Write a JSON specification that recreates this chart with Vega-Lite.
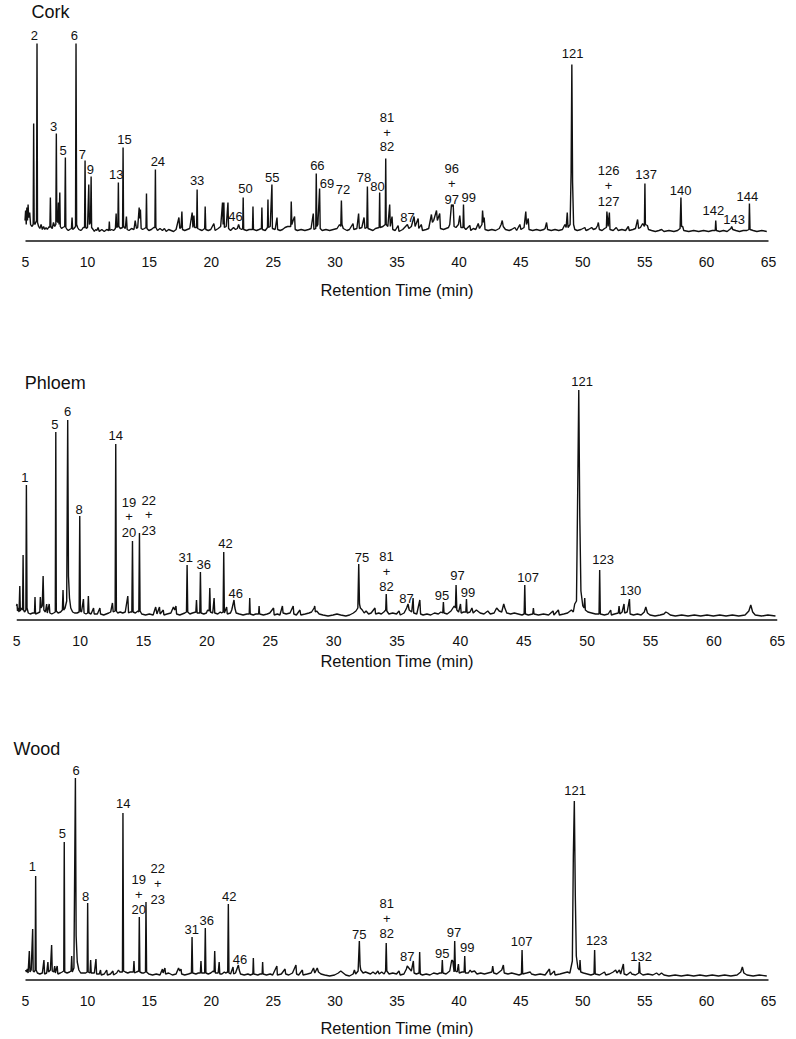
{
"$schema": "https://vega.github.io/schema/vega-lite/v6.json",
"padding": {"left": 12, "top": 3.5, "right": 10, "bottom": 4},
"background": "white",
"config": {"view": {"stroke": null}, "font": "Liberation Sans"},
"spacing": 154,
"bounds": "flush",
"center": true,
"datasets": {
"cork": [
{"t":5.0,"v":12},{"t":5.05,"v":22},{"t":5.1,"v":8},{"t":5.15,"v":25},{"t":5.2,"v":12},{"t":5.25,"v":28},{"t":5.3,"v":15},{"t":5.38,"v":20},{"t":5.45,"v":8},{"t":5.55,"v":6},{"t":5.66,"v":8},{"t":5.7,"v":109},{"t":5.74,"v":10},{"t":5.8,"v":8},{"t":5.93,"v":12},{"t":5.97,"v":189},{"t":6.01,"v":10},{"t":6.1,"v":6},{"t":6.2,"v":4},{"t":6.3,"v":8},{"t":6.4,"v":3},{"t":6.5,"v":6},{"t":6.6,"v":3},{"t":6.7,"v":5},{"t":6.8,"v":3},{"t":6.95,"v":6},{"t":7.01,"v":5},{"t":7.05,"v":35},{"t":7.09,"v":6},{"t":7.2,"v":4},{"t":7.3,"v":10},{"t":7.4,"v":6},{"t":7.49,"v":8},{"t":7.53,"v":99},{"t":7.57,"v":12},{"t":7.65,"v":10},{"t":7.7,"v":30},{"t":7.75,"v":8},{"t":7.81,"v":40},{"t":7.85,"v":6},{"t":7.95,"v":4},{"t":8.05,"v":5},{"t":8.21,"v":6},{"t":8.26,"v":75},{"t":8.3,"v":5},{"t":8.4,"v":3},{"t":8.5,"v":2},{"t":8.6,"v":3},{"t":8.75,"v":4},{"t":8.8,"v":15},{"t":8.85,"v":3},{"t":8.95,"v":4},{"t":9.08,"v":6},{"t":9.12,"v":189},{"t":9.17,"v":8},{"t":9.25,"v":5},{"t":9.35,"v":3},{"t":9.5,"v":2},{"t":9.6,"v":3},{"t":9.7,"v":5},{"t":9.81,"v":5},{"t":9.85,"v":72},{"t":9.89,"v":6},{"t":9.95,"v":4},{"t":10.05,"v":5},{"t":10.15,"v":48},{"t":10.2,"v":8},{"t":10.29,"v":10},{"t":10.34,"v":56},{"t":10.38,"v":5},
{"t":10.5,"v":3},{"t":10.6,"v":1},{"t":10.7,"v":3},{"t":10.8,"v":2},{"t":10.9,"v":5},{"t":11.0,"v":1},{"t":11.2,"v":3},{"t":11.4,"v":1},{"t":11.6,"v":3},{"t":11.77,"v":2},{"t":11.81,"v":11},{"t":11.85,"v":2},{"t":12.0,"v":3},{"t":12.15,"v":2},{"t":12.3,"v":4},{"t":12.36,"v":19},{"t":12.4,"v":5},{"t":12.5,"v":6},{"t":12.54,"v":50},{"t":12.58,"v":6},{"t":12.7,"v":4},{"t":12.88,"v":5},{"t":12.92,"v":85},{"t":12.96,"v":6},{"t":13.1,"v":4},{"t":13.19,"v":16},{"t":13.25,"v":3},{"t":13.4,"v":2},{"t":13.6,"v":4},{"t":13.8,"v":3},{"t":13.9,"v":12},{"t":14.0,"v":4},{"t":14.1,"v":5},{"t":14.22,"v":25},{"t":14.27,"v":14},{"t":14.32,"v":23},{"t":14.38,"v":4},{"t":14.5,"v":3},{"t":14.65,"v":4},{"t":14.77,"v":5},{"t":14.81,"v":39},{"t":14.85,"v":4},{"t":15.0,"v":2},{"t":15.2,"v":3},{"t":15.4,"v":5},{"t":15.49,"v":5},{"t":15.53,"v":63},{"t":15.57,"v":5},{"t":15.7,"v":2},{"t":15.9,"v":4},{"t":16.1,"v":2},{"t":16.26,"v":4},{"t":16.4,"v":1},{"t":16.6,"v":3},{"t":16.8,"v":2},{"t":17.0,"v":1},{"t":17.2,"v":3},{"t":17.43,"v":15},{"t":17.5,"v":4},{"t":17.6,"v":5},{"t":17.67,"v":21},{"t":17.72,"v":3},{"t":17.9,"v":2},{"t":18.1,"v":3},{"t":18.3,"v":4},{"t":18.5,"v":20},{"t":18.56,"v":5},{"t":18.64,"v":17},{"t":18.7,"v":5},{"t":18.86,"v":5},{"t":18.9,"v":43},{"t":18.94,"v":4},{"t":19.1,"v":3},{"t":19.3,"v":2},{"t":19.51,"v":4},{"t":19.55,"v":26},{"t":19.6,"v":3},{"t":19.8,"v":2},{"t":20.0,"v":3},{"t":20.25,"v":9},{"t":20.35,"v":2},{"t":20.6,"v":4},{"t":20.8,"v":6},{"t":20.95,"v":30},{"t":21.0,"v":8},{"t":21.06,"v":30},{"t":21.1,"v":5},{"t":21.25,"v":6},{"t":21.39,"v":30},{"t":21.44,"v":4},{"t":21.6,"v":2},{"t":21.84,"v":5},{"t":22.0,"v":3},{"t":22.15,"v":4},{"t":22.25,"v":8},{"t":22.35,"v":4},{"t":22.5,"v":3},{"t":22.58,"v":4},{"t":22.62,"v":35},{"t":22.66,"v":3},{"t":22.9,"v":2},{"t":23.1,"v":3},{"t":23.37,"v":3},{"t":23.41,"v":26},{"t":23.45,"v":3},{"t":23.7,"v":2},{"t":23.9,"v":3},{"t":24.09,"v":4},{"t":24.13,"v":25},{"t":24.17,"v":3},{"t":24.4,"v":2},{"t":24.58,"v":5},{"t":24.62,"v":33},{"t":24.66,"v":5},{"t":24.8,"v":6},{"t":24.94,"v":48},{"t":24.98,"v":4},{"t":25.2,"v":3},{"t":25.35,"v":15},{"t":25.4,"v":3},{"t":25.6,"v":2},{"t":25.8,"v":3},{"t":26.0,"v":5},{"t":26.2,"v":6},{"t":26.46,"v":6},{"t":26.5,"v":31},{"t":26.55,"v":8},{"t":26.65,"v":12},{"t":26.77,"v":16},{"t":26.82,"v":3},{"t":27.0,"v":2},{"t":27.3,"v":3},{"t":27.6,"v":2},{"t":27.9,"v":3},{"t":28.1,"v":4},{"t":28.28,"v":19},{"t":28.33,"v":3},{"t":28.48,"v":4},{"t":28.52,"v":59},{"t":28.57,"v":6},{"t":28.65,"v":8},{"t":28.79,"v":44},{"t":28.84,"v":4},{"t":29.0,"v":2},{"t":29.3,"v":3},{"t":29.6,"v":2},{"t":29.9,"v":3},{"t":30.2,"v":4},{"t":30.4,"v":8},{"t":30.5,"v":6},{"t":30.55,"v":32},{"t":30.6,"v":8},{"t":30.7,"v":4},{"t":31.0,"v":2},{"t":31.2,"v":3},{"t":31.49,"v":9},{"t":31.55,"v":3},{"t":31.8,"v":4},{"t":31.94,"v":19},{"t":32.0,"v":4},{"t":32.2,"v":5},{"t":32.38,"v":15},{"t":32.45,"v":4},{"t":32.6,"v":5},{"t":32.65,"v":46},{"t":32.7,"v":4},{"t":32.9,"v":3},{"t":33.1,"v":2},{"t":33.3,"v":4},{"t":33.6,"v":5},{"t":33.64,"v":40},{"t":33.68,"v":5},{"t":33.9,"v":6},{"t":34.09,"v":8},{"t":34.13,"v":74},{"t":34.17,"v":8},{"t":34.3,"v":6},{"t":34.45,"v":28},{"t":34.5,"v":6},{"t":34.64,"v":16},{"t":34.7,"v":3},{"t":34.9,"v":2},{"t":35.13,"v":7},{"t":35.2,"v":1},{"t":35.5,"v":3},{"t":35.88,"v":8},{"t":36.0,"v":4},{"t":36.2,"v":6},{"t":36.42,"v":16},{"t":36.5,"v":6},{"t":36.75,"v":14},{"t":36.8,"v":4},{"t":37.0,"v":8},{"t":37.1,"v":2},{"t":37.4,"v":3},{"t":37.6,"v":4},{"t":37.82,"v":18},{"t":37.9,"v":10},{"t":38.0,"v":12},{"t":38.23,"v":22},{"t":38.3,"v":12},{"t":38.49,"v":19},{"t":38.55,"v":4},{"t":38.8,"v":3},{"t":39.0,"v":4},{"t":39.2,"v":5},{"t":39.3,"v":8},{"t":39.44,"v":28},{"t":39.5,"v":26},{"t":39.58,"v":28},{"t":39.65,"v":6},{"t":39.8,"v":5},{"t":40.0,"v":8},{"t":40.11,"v":17},{"t":40.2,"v":5},{"t":40.37,"v":5},{"t":40.41,"v":28},{"t":40.46,"v":5},{"t":40.6,"v":3},{"t":40.92,"v":7},{"t":41.0,"v":2},{"t":41.2,"v":4},{"t":41.4,"v":3},{"t":41.6,"v":9},{"t":41.7,"v":4},{"t":41.9,"v":8},{"t":41.95,"v":22},{"t":42.02,"v":10},{"t":42.08,"v":15},{"t":42.15,"v":3},{"t":42.4,"v":2},{"t":42.7,"v":3},{"t":43.0,"v":2},{"t":43.3,"v":4},{"t":43.45,"v":8},{"t":43.54,"v":12},{"t":43.62,"v":6},{"t":43.8,"v":3},{"t":44.1,"v":2},{"t":44.3,"v":3},{"t":44.56,"v":5},{"t":44.7,"v":2},{"t":44.96,"v":8},{"t":45.05,"v":3},{"t":45.3,"v":5},{"t":45.44,"v":21},{"t":45.5,"v":8},{"t":45.64,"v":14},{"t":45.7,"v":3},{"t":46.0,"v":2},{"t":46.3,"v":3},{"t":46.6,"v":2},{"t":46.9,"v":3},{"t":47.0,"v":4},{"t":47.12,"v":10},{"t":47.2,"v":3},{"t":47.5,"v":2},{"t":47.8,"v":3},{"t":48.1,"v":2},{"t":48.4,"v":3},{"t":48.6,"v":8},{"t":48.7,"v":5},{"t":48.79,"v":20},{"t":48.85,"v":5},{"t":49.02,"v":8},{"t":49.1,"v":60},{"t":49.16,"v":168},{"t":49.22,"v":50},{"t":49.3,"v":8},{"t":49.4,"v":3},{"t":49.6,"v":2},{"t":49.9,"v":3},{"t":50.21,"v":5},{"t":50.3,"v":2},{"t":50.5,"v":3},{"t":50.76,"v":5},{"t":50.9,"v":3},{"t":51.1,"v":4},{"t":51.24,"v":7},{"t":51.3,"v":10},{"t":51.38,"v":3},{"t":51.6,"v":2},{"t":51.8,"v":4},{"t":51.95,"v":5},{"t":51.99,"v":21},{"t":52.09,"v":6},{"t":52.19,"v":20},{"t":52.24,"v":3},{"t":52.5,"v":2},{"t":52.75,"v":5},{"t":52.9,"v":2},{"t":53.2,"v":3},{"t":53.5,"v":2},{"t":53.72,"v":6},{"t":53.8,"v":2},{"t":54.1,"v":3},{"t":54.3,"v":4},{"t":54.47,"v":13},{"t":54.55,"v":4},{"t":54.7,"v":5},{"t":54.88,"v":9},{"t":55.02,"v":6},{"t":55.06,"v":49},{"t":55.1,"v":8},{"t":55.26,"v":7},{"t":55.35,"v":3},{"t":55.6,"v":2},{"t":55.9,"v":1},{"t":56.2,"v":2},{"t":56.41,"v":3},{"t":56.6,"v":1},{"t":57.0,"v":2},{"t":57.4,"v":1},{"t":57.7,"v":2},{"t":57.9,"v":4},{"t":57.97,"v":35},{"t":58.02,"v":6},{"t":58.11,"v":6},{"t":58.2,"v":2},{"t":58.6,"v":1},{"t":59.0,"v":2},{"t":59.4,"v":1},{"t":59.8,"v":2},{"t":60.2,"v":1},{"t":60.5,"v":2},{"t":60.74,"v":2},{"t":60.78,"v":12},{"t":60.83,"v":2},{"t":61.1,"v":1},{"t":61.4,"v":2},{"t":61.7,"v":1},{"t":62.0,"v":4},{"t":62.07,"v":6},{"t":62.15,"v":3},{"t":62.4,"v":2},{"t":62.7,"v":1},{"t":63.0,"v":2},{"t":63.3,"v":2},{"t":63.46,"v":3},{"t":63.5,"v":29},{"t":63.55,"v":3},{"t":63.8,"v":2},{"t":64.1,"v":1},{"t":64.5,"v":2},{"t":64.9,"v":1}
],
"corkLab": [
{"t":5.75,"v":197,"label":"2"},{"t":8.99,"v":197,"label":"6"},{"t":7.32,"v":106,"label":"3"},{"t":8.07,"v":82,"label":"5"},{"t":9.63,"v":78,"label":"7"},{"t":10.28,"v":63,"label":"9"},{"t":12.36,"v":58,"label":"13"},{"t":13.03,"v":92.7,"label":"15"},{"t":15.73,"v":71,"label":"24"},{"t":18.9,"v":52,"label":"33"},{"t":22.0,"v":15.3,"label":"46"},{"t":22.81,"v":43.7,"label":"50"},{"t":24.97,"v":54.3,"label":"55"},{"t":28.61,"v":66.3,"label":"66"},{"t":29.39,"v":48.7,"label":"69"},{"t":30.68,"v":43,"label":"72"},{"t":32.38,"v":54.7,"label":"78"},{"t":33.46,"v":46,"label":"80"},{"t":34.24,"v":114.7,"label":"81"},{"t":34.24,"v":99.7,"label":"+"},{"t":34.24,"v":85.3,"label":"82"},{"t":35.88,"v":14.7,"label":"87"},{"t":39.46,"v":63.7,"label":"96"},{"t":39.46,"v":48.7,"label":"+"},{"t":39.46,"v":33,"label":"97"},{"t":40.84,"v":34.3,"label":"99"},{"t":49.22,"v":178.7,"label":"121"},{"t":52.13,"v":61.3,"label":"126"},{"t":52.13,"v":46.3,"label":"+"},{"t":52.13,"v":30.7,"label":"127"},{"t":55.15,"v":57.7,"label":"137"},{"t":57.95,"v":42,"label":"140"},{"t":60.59,"v":22,"label":"142"},{"t":62.26,"v":12.7,"label":"143"},{"t":63.34,"v":35.3,"label":"144"}
],
"phloem": [
{"t":5.02,"v":10},{"t":5.06,"v":12},{"t":5.1,"v":5},{"t":5.16,"v":8},{"t":5.22,"v":4},{"t":5.28,"v":30},{"t":5.32,"v":5},{"t":5.4,"v":8},{"t":5.5,"v":6},{"t":5.54,"v":61},{"t":5.58,"v":6},{"t":5.65,"v":4},{"t":5.76,"v":6},{"t":5.8,"v":131},{"t":5.85,"v":8},{"t":5.95,"v":3},{"t":6.1,"v":2},{"t":6.3,"v":3},{"t":6.44,"v":3},{"t":6.48,"v":19},{"t":6.52,"v":2},{"t":6.7,"v":3},{"t":6.86,"v":4},{"t":6.9,"v":19},{"t":6.95,"v":8},{"t":7.05,"v":10},{"t":7.12,"v":40},{"t":7.18,"v":6},{"t":7.3,"v":4},{"t":7.4,"v":12},{"t":7.45,"v":3},{"t":7.6,"v":12},{"t":7.65,"v":3},{"t":7.8,"v":2},{"t":7.95,"v":3},{"t":8.08,"v":4},{"t":8.12,"v":184},{"t":8.16,"v":5},{"t":8.3,"v":3},{"t":8.5,"v":4},{"t":8.64,"v":6},{"t":8.69,"v":26},{"t":8.74,"v":6},{"t":8.85,"v":8},{"t":8.98,"v":15},{"t":9.06,"v":196},{"t":9.12,"v":40},{"t":9.2,"v":18},{"t":9.3,"v":8},{"t":9.45,"v":4},{"t":9.6,"v":3},{"t":9.8,"v":3},{"t":9.96,"v":4},{"t":10.01,"v":100},{"t":10.06,"v":5},{"t":10.15,"v":4},{"t":10.3,"v":17},{"t":10.35,"v":3},{"t":10.5,"v":2},{"t":10.64,"v":3},{"t":10.69,"v":20},{"t":10.74,"v":3},{"t":10.9,"v":2},{"t":11.1,"v":8},{"t":11.15,"v":2},{"t":11.4,"v":2},{"t":11.6,"v":8},{"t":11.65,"v":2},{"t":11.9,"v":1},{"t":12.1,"v":2},{"t":12.3,"v":3},{"t":12.45,"v":4},{"t":12.59,"v":13},{"t":12.65,"v":4},{"t":12.8,"v":5},{"t":12.85,"v":172},{"t":12.9,"v":5},{"t":13.0,"v":3},{"t":13.2,"v":4},{"t":13.4,"v":3},{"t":13.6,"v":4},{"t":13.8,"v":20},{"t":13.86,"v":3},{"t":14.0,"v":4},{"t":14.12,"v":4},{"t":14.17,"v":75},{"t":14.22,"v":4},{"t":14.4,"v":3},{"t":14.6,"v":5},{"t":14.67,"v":4},{"t":14.72,"v":83},{"t":14.77,"v":5},{"t":14.9,"v":2},{"t":15.2,"v":1},{"t":15.5,"v":2},{"t":15.8,"v":1},{"t":16.0,"v":9},{"t":16.1,"v":2},{"t":16.3,"v":9},{"t":16.35,"v":2},{"t":16.6,"v":6},{"t":16.65,"v":1},{"t":16.9,"v":2},{"t":17.2,"v":3},{"t":17.4,"v":9},{"t":17.5,"v":6},{"t":17.6,"v":10},{"t":17.65,"v":2},{"t":17.9,"v":1},{"t":18.1,"v":2},{"t":18.3,"v":3},{"t":18.43,"v":4},{"t":18.48,"v":51},{"t":18.53,"v":4},{"t":18.7,"v":2},{"t":18.9,"v":3},{"t":19.17,"v":4},{"t":19.22,"v":16},{"t":19.27,"v":3},{"t":19.48,"v":3},{"t":19.53,"v":44},{"t":19.58,"v":3},{"t":19.8,"v":2},{"t":20.0,"v":3},{"t":20.1,"v":6},{"t":20.22,"v":5},{"t":20.27,"v":28},{"t":20.32,"v":4},{"t":20.5,"v":3},{"t":20.61,"v":18},{"t":20.66,"v":3},{"t":20.9,"v":2},{"t":21.1,"v":4},{"t":21.2,"v":3},{"t":21.32,"v":4},{"t":21.37,"v":64},{"t":21.42,"v":3},{"t":21.6,"v":9},{"t":21.65,"v":2},{"t":21.9,"v":3},{"t":22.0,"v":6},{"t":22.18,"v":16},{"t":22.25,"v":8},{"t":22.35,"v":3},{"t":22.6,"v":2},{"t":22.9,"v":1},{"t":23.2,"v":2},{"t":23.38,"v":2},{"t":23.42,"v":18},{"t":23.46,"v":2},{"t":23.7,"v":1},{"t":23.9,"v":2},{"t":24.12,"v":2},{"t":24.16,"v":10},{"t":24.2,"v":2},{"t":24.5,"v":1},{"t":24.8,"v":2},{"t":25.0,"v":3},{"t":25.3,"v":8},{"t":25.35,"v":1},{"t":25.6,"v":2},{"t":25.8,"v":1},{"t":26.0,"v":10},{"t":26.05,"v":3},{"t":26.3,"v":2},{"t":26.6,"v":3},{"t":26.85,"v":10},{"t":26.9,"v":2},{"t":27.1,"v":1},{"t":27.38,"v":6},{"t":27.45,"v":1},{"t":27.8,"v":2},{"t":28.1,"v":3},{"t":28.3,"v":4},{"t":28.5,"v":8},{"t":28.55,"v":10},{"t":28.6,"v":4},{"t":28.7,"v":5},{"t":28.9,"v":2},{"t":29.2,"v":1},{"t":29.6,"v":0},{"t":30.0,"v":1},{"t":30.3,"v":2},{"t":30.6,"v":1},{"t":31.0,"v":0},{"t":31.3,"v":1},{"t":31.6,"v":3},{"t":31.8,"v":5},{"t":31.95,"v":8},{"t":32.02,"v":52},{"t":32.08,"v":12},{"t":32.15,"v":8},{"t":32.3,"v":6},{"t":32.45,"v":3},{"t":32.6,"v":5},{"t":32.8,"v":2},{"t":33.0,"v":3},{"t":33.3,"v":8},{"t":33.35,"v":2},{"t":33.6,"v":3},{"t":33.8,"v":2},{"t":34.0,"v":4},{"t":34.15,"v":6},{"t":34.19,"v":22},{"t":34.24,"v":5},{"t":34.4,"v":2},{"t":34.7,"v":3},{"t":35.0,"v":2},{"t":35.2,"v":5},{"t":35.3,"v":1},{"t":35.6,"v":3},{"t":35.8,"v":8},{"t":35.91,"v":12},{"t":36.0,"v":6},{"t":36.2,"v":4},{"t":36.31,"v":18},{"t":36.36,"v":3},{"t":36.6,"v":2},{"t":36.84,"v":16},{"t":36.9,"v":2},{"t":37.1,"v":1},{"t":37.4,"v":2},{"t":37.7,"v":1},{"t":38.0,"v":3},{"t":38.3,"v":2},{"t":38.5,"v":4},{"t":38.65,"v":3},{"t":38.7,"v":14},{"t":38.75,"v":3},{"t":39.0,"v":2},{"t":39.3,"v":5},{"t":39.45,"v":8},{"t":39.55,"v":10},{"t":39.65,"v":8},{"t":39.7,"v":31},{"t":39.76,"v":6},{"t":39.9,"v":4},{"t":40.05,"v":12},{"t":40.1,"v":3},{"t":40.3,"v":4},{"t":40.47,"v":4},{"t":40.52,"v":17},{"t":40.57,"v":3},{"t":40.8,"v":4},{"t":40.95,"v":8},{"t":41.05,"v":3},{"t":41.3,"v":6},{"t":41.4,"v":5},{"t":41.6,"v":3},{"t":41.9,"v":2},{"t":42.2,"v":5},{"t":42.4,"v":2},{"t":42.7,"v":3},{"t":42.9,"v":8},{"t":43.1,"v":5},{"t":43.3,"v":4},{"t":43.46,"v":12},{"t":43.55,"v":8},{"t":43.7,"v":3},{"t":44.0,"v":2},{"t":44.3,"v":3},{"t":44.6,"v":2},{"t":44.9,"v":1},{"t":45.07,"v":2},{"t":45.12,"v":31},{"t":45.17,"v":2},{"t":45.4,"v":1},{"t":45.75,"v":2},{"t":45.8,"v":8},{"t":45.85,"v":2},{"t":46.2,"v":1},{"t":46.6,"v":2},{"t":47.0,"v":1},{"t":47.35,"v":5},{"t":47.42,"v":1},{"t":47.77,"v":6},{"t":47.85,"v":1},{"t":48.2,"v":2},{"t":48.5,"v":3},{"t":48.8,"v":6},{"t":48.95,"v":4},{"t":49.06,"v":12},{"t":49.2,"v":15},{"t":49.3,"v":130},{"t":49.38,"v":226},{"t":49.46,"v":100},{"t":49.55,"v":25},{"t":49.7,"v":10},{"t":49.8,"v":8},{"t":49.85,"v":18},{"t":49.9,"v":6},{"t":50.1,"v":4},{"t":50.4,"v":3},{"t":50.7,"v":2},{"t":50.98,"v":2},{"t":51.03,"v":46},{"t":51.08,"v":2},{"t":51.4,"v":1},{"t":51.7,"v":2},{"t":51.9,"v":6},{"t":51.95,"v":1},{"t":52.2,"v":2},{"t":52.5,"v":3},{"t":52.56,"v":10},{"t":52.62,"v":2},{"t":52.8,"v":4},{"t":52.95,"v":12},{"t":53.0,"v":3},{"t":53.2,"v":4},{"t":53.38,"v":17},{"t":53.43,"v":2},{"t":53.7,"v":1},{"t":54.0,"v":2},{"t":54.3,"v":1},{"t":54.55,"v":4},{"t":54.67,"v":9},{"t":54.8,"v":3},{"t":55.0,"v":1},{"t":55.4,"v":0},{"t":55.8,"v":1},{"t":56.1,"v":2},{"t":56.25,"v":4},{"t":56.4,"v":3},{"t":56.6,"v":1},{"t":57.0,"v":0},{"t":57.5,"v":1},{"t":58.0,"v":0},{"t":58.5,"v":1},{"t":59.0,"v":0},{"t":59.5,"v":1},{"t":60.0,"v":0},{"t":60.5,"v":1},{"t":61.0,"v":0},{"t":61.5,"v":1},{"t":62.0,"v":0},{"t":62.5,"v":1},{"t":62.8,"v":5},{"t":62.95,"v":11},{"t":63.1,"v":4},{"t":63.3,"v":1},{"t":63.8,"v":0},{"t":64.3,"v":1},{"t":64.9,"v":0}
],
"phloemLab": [
{"t":5.67,"v":138.2,"label":"1"},{"t":8.04,"v":191.2,"label":"5"},{"t":9.06,"v":203.8,"label":"6"},{"t":9.95,"v":106.5,"label":"8"},{"t":12.85,"v":179.8,"label":"14"},{"t":13.9,"v":113.2,"label":"19"},{"t":13.9,"v":98.8,"label":"+"},{"t":13.9,"v":83.2,"label":"20"},{"t":15.45,"v":115.5,"label":"22"},{"t":15.45,"v":100.8,"label":"+"},{"t":15.45,"v":85.5,"label":"23"},{"t":18.37,"v":58.2,"label":"31"},{"t":19.79,"v":51.2,"label":"36"},{"t":21.5,"v":72.2,"label":"42"},{"t":22.32,"v":22.2,"label":"46"},{"t":32.28,"v":57.8,"label":"75"},{"t":34.21,"v":59.5,"label":"81"},{"t":34.21,"v":44.5,"label":"+"},{"t":34.21,"v":28.8,"label":"82"},{"t":35.79,"v":17.2,"label":"87"},{"t":38.59,"v":20.5,"label":"95"},{"t":39.81,"v":39.8,"label":"97"},{"t":40.64,"v":23.2,"label":"99"},{"t":45.38,"v":37.8,"label":"107"},{"t":49.64,"v":233.8,"label":"121"},{"t":51.3,"v":56.2,"label":"123"},{"t":53.46,"v":25.5,"label":"130"}
],
"wood": [
{"t":5.05,"v":6},{"t":5.12,"v":4},{"t":5.19,"v":7},{"t":5.25,"v":3},{"t":5.35,"v":25},{"t":5.4,"v":4},{"t":5.5,"v":6},{"t":5.62,"v":47},{"t":5.66,"v":5},{"t":5.75,"v":4},{"t":5.82,"v":6},{"t":5.86,"v":100},{"t":5.9,"v":6},{"t":6.0,"v":3},{"t":6.2,"v":2},{"t":6.4,"v":3},{"t":6.53,"v":16},{"t":6.58,"v":2},{"t":6.75,"v":3},{"t":6.85,"v":14},{"t":6.9,"v":4},{"t":7.05,"v":6},{"t":7.15,"v":31},{"t":7.2,"v":5},{"t":7.32,"v":4},{"t":7.4,"v":10},{"t":7.45,"v":3},{"t":7.6,"v":10},{"t":7.65,"v":2},{"t":7.85,"v":3},{"t":8.0,"v":4},{"t":8.13,"v":5},{"t":8.17,"v":134},{"t":8.21,"v":4},{"t":8.4,"v":3},{"t":8.6,"v":4},{"t":8.72,"v":5},{"t":8.77,"v":20},{"t":8.82,"v":4},{"t":8.95,"v":8},{"t":9.07,"v":198},{"t":9.13,"v":40},{"t":9.22,"v":14},{"t":9.35,"v":6},{"t":9.5,"v":3},{"t":9.7,"v":3},{"t":9.9,"v":3},{"t":10.02,"v":4},{"t":10.06,"v":73},{"t":10.1,"v":4},{"t":10.25,"v":3},{"t":10.3,"v":16},{"t":10.35,"v":3},{"t":10.6,"v":3},{"t":10.73,"v":17},{"t":10.78,"v":2},{"t":11.0,"v":2},{"t":11.1,"v":6},{"t":11.15,"v":1},{"t":11.4,"v":2},{"t":11.6,"v":6},{"t":11.65,"v":1},{"t":11.9,"v":2},{"t":12.1,"v":5},{"t":12.15,"v":1},{"t":12.4,"v":3},{"t":12.55,"v":6},{"t":12.65,"v":4},{"t":12.87,"v":4},{"t":12.91,"v":163},{"t":12.96,"v":5},{"t":13.1,"v":4},{"t":13.3,"v":3},{"t":13.5,"v":4},{"t":13.75,"v":4},{"t":13.8,"v":15},{"t":13.85,"v":3},{"t":14.0,"v":4},{"t":14.19,"v":5},{"t":14.23,"v":59},{"t":14.28,"v":4},{"t":14.45,"v":3},{"t":14.6,"v":3},{"t":14.73,"v":4},{"t":14.77,"v":74},{"t":14.82,"v":4},{"t":15.0,"v":2},{"t":15.3,"v":1},{"t":15.6,"v":2},{"t":15.9,"v":1},{"t":16.1,"v":7},{"t":16.15,"v":3},{"t":16.3,"v":8},{"t":16.35,"v":2},{"t":16.6,"v":3},{"t":16.9,"v":1},{"t":17.2,"v":2},{"t":17.4,"v":8},{"t":17.5,"v":5},{"t":17.6,"v":7},{"t":17.65,"v":2},{"t":17.9,"v":1},{"t":18.2,"v":2},{"t":18.44,"v":3},{"t":18.49,"v":39},{"t":18.54,"v":3},{"t":18.8,"v":2},{"t":19.0,"v":3},{"t":19.16,"v":3},{"t":19.21,"v":15},{"t":19.26,"v":3},{"t":19.51,"v":3},{"t":19.56,"v":48},{"t":19.61,"v":3},{"t":19.8,"v":2},{"t":20.0,"v":3},{"t":20.2,"v":5},{"t":20.27,"v":4},{"t":20.32,"v":25},{"t":20.37,"v":3},{"t":20.6,"v":3},{"t":20.68,"v":14},{"t":20.73,"v":2},{"t":20.9,"v":2},{"t":21.1,"v":4},{"t":21.2,"v":3},{"t":21.37,"v":4},{"t":21.42,"v":72},{"t":21.47,"v":3},{"t":21.6,"v":2},{"t":21.8,"v":9},{"t":21.85,"v":2},{"t":22.0,"v":3},{"t":22.23,"v":11},{"t":22.3,"v":6},{"t":22.4,"v":2},{"t":22.7,"v":1},{"t":23.0,"v":2},{"t":23.2,"v":1},{"t":23.4,"v":2},{"t":23.44,"v":18},{"t":23.48,"v":2},{"t":23.8,"v":1},{"t":24.0,"v":2},{"t":24.15,"v":2},{"t":24.19,"v":14},{"t":24.23,"v":2},{"t":24.5,"v":1},{"t":24.8,"v":2},{"t":25.0,"v":1},{"t":25.34,"v":10},{"t":25.38,"v":1},{"t":25.7,"v":2},{"t":26.0,"v":7},{"t":26.05,"v":2},{"t":26.3,"v":1},{"t":26.6,"v":3},{"t":26.88,"v":11},{"t":26.93,"v":2},{"t":27.1,"v":1},{"t":27.4,"v":6},{"t":27.45,"v":1},{"t":27.8,"v":2},{"t":28.1,"v":3},{"t":28.3,"v":8},{"t":28.4,"v":3},{"t":28.6,"v":8},{"t":28.7,"v":4},{"t":28.9,"v":2},{"t":29.2,"v":1},{"t":29.6,"v":0},{"t":30.0,"v":1},{"t":30.3,"v":3},{"t":30.5,"v":5},{"t":30.7,"v":3},{"t":30.9,"v":1},{"t":31.2,"v":0},{"t":31.5,"v":2},{"t":31.6,"v":6},{"t":31.7,"v":2},{"t":31.9,"v":5},{"t":32.0,"v":35},{"t":32.06,"v":10},{"t":32.12,"v":6},{"t":32.3,"v":3},{"t":32.5,"v":4},{"t":32.7,"v":3},{"t":32.9,"v":2},{"t":33.1,"v":4},{"t":33.3,"v":2},{"t":33.5,"v":5},{"t":33.6,"v":2},{"t":33.8,"v":4},{"t":34.0,"v":2},{"t":34.12,"v":5},{"t":34.17,"v":33},{"t":34.22,"v":5},{"t":34.4,"v":2},{"t":34.7,"v":3},{"t":35.0,"v":2},{"t":35.2,"v":5},{"t":35.3,"v":1},{"t":35.6,"v":2},{"t":35.8,"v":7},{"t":35.87,"v":10},{"t":36.0,"v":8},{"t":36.2,"v":5},{"t":36.36,"v":15},{"t":36.42,"v":3},{"t":36.6,"v":2},{"t":36.82,"v":3},{"t":36.87,"v":24},{"t":36.92,"v":2},{"t":37.1,"v":1},{"t":37.4,"v":2},{"t":37.7,"v":1},{"t":38.0,"v":3},{"t":38.3,"v":2},{"t":38.5,"v":3},{"t":38.65,"v":3},{"t":38.7,"v":16},{"t":38.75,"v":3},{"t":39.0,"v":2},{"t":39.3,"v":5},{"t":39.46,"v":16},{"t":39.55,"v":15},{"t":39.65,"v":4},{"t":39.7,"v":35},{"t":39.76,"v":5},{"t":39.9,"v":4},{"t":40.0,"v":12},{"t":40.06,"v":3},{"t":40.3,"v":4},{"t":40.46,"v":4},{"t":40.51,"v":20},{"t":40.56,"v":3},{"t":40.8,"v":3},{"t":40.95,"v":6},{"t":41.05,"v":4},{"t":41.3,"v":5},{"t":41.5,"v":2},{"t":41.8,"v":3},{"t":42.1,"v":2},{"t":42.4,"v":3},{"t":42.7,"v":4},{"t":42.77,"v":10},{"t":42.85,"v":3},{"t":43.1,"v":2},{"t":43.3,"v":4},{"t":43.5,"v":6},{"t":43.63,"v":11},{"t":43.7,"v":3},{"t":44.0,"v":2},{"t":44.3,"v":3},{"t":44.6,"v":2},{"t":44.9,"v":1},{"t":45.09,"v":2},{"t":45.14,"v":26},{"t":45.19,"v":2},{"t":45.5,"v":3},{"t":45.8,"v":4},{"t":45.9,"v":2},{"t":46.2,"v":1},{"t":46.6,"v":2},{"t":47.0,"v":1},{"t":47.35,"v":7},{"t":47.42,"v":1},{"t":47.75,"v":5},{"t":47.8,"v":1},{"t":48.2,"v":2},{"t":48.5,"v":3},{"t":48.8,"v":4},{"t":49.0,"v":3},{"t":49.2,"v":15},{"t":49.28,"v":120},{"t":49.36,"v":175},{"t":49.44,"v":80},{"t":49.52,"v":20},{"t":49.65,"v":8},{"t":49.78,"v":6},{"t":49.82,"v":16},{"t":49.88,"v":4},{"t":50.1,"v":3},{"t":50.4,"v":2},{"t":50.7,"v":1},{"t":50.95,"v":2},{"t":51.0,"v":26},{"t":51.05,"v":2},{"t":51.4,"v":1},{"t":51.8,"v":4},{"t":51.9,"v":1},{"t":52.2,"v":2},{"t":52.5,"v":4},{"t":52.7,"v":6},{"t":52.8,"v":3},{"t":53.0,"v":6},{"t":53.1,"v":2},{"t":53.32,"v":12},{"t":53.38,"v":2},{"t":53.6,"v":1},{"t":53.9,"v":4},{"t":54.0,"v":2},{"t":54.3,"v":1},{"t":54.56,"v":3},{"t":54.61,"v":14},{"t":54.67,"v":3},{"t":54.9,"v":1},{"t":55.3,"v":2},{"t":55.7,"v":1},{"t":56.0,"v":3},{"t":56.2,"v":1},{"t":56.4,"v":3},{"t":56.6,"v":1},{"t":57.0,"v":0},{"t":57.5,"v":1},{"t":58.0,"v":0},{"t":58.5,"v":1},{"t":59.0,"v":0},{"t":59.5,"v":1},{"t":60.0,"v":0},{"t":60.5,"v":1},{"t":61.0,"v":0},{"t":61.5,"v":1},{"t":62.0,"v":0},{"t":62.5,"v":1},{"t":62.8,"v":4},{"t":62.93,"v":9},{"t":63.05,"v":3},{"t":63.3,"v":1},{"t":63.8,"v":0},{"t":64.3,"v":1},{"t":64.9,"v":0}
],
"woodLab": [
{"t":5.59,"v":109.5,"label":"1"},{"t":8.01,"v":142.2,"label":"5"},{"t":9.12,"v":204.8,"label":"6"},{"t":9.9,"v":79.5,"label":"8"},{"t":12.94,"v":172.2,"label":"14"},{"t":14.18,"v":96.5,"label":"19"},{"t":14.18,"v":81.5,"label":"+"},{"t":14.18,"v":66.2,"label":"20"},{"t":15.72,"v":107.2,"label":"22"},{"t":15.72,"v":91.8,"label":"+"},{"t":15.72,"v":76.5,"label":"23"},{"t":18.46,"v":46.2,"label":"31"},{"t":19.67,"v":55.5,"label":"36"},{"t":21.5,"v":79.5,"label":"42"},{"t":22.36,"v":16.5,"label":"46"},{"t":32.0,"v":41.5,"label":"75"},{"t":34.21,"v":72.2,"label":"81"},{"t":34.21,"v":57.2,"label":"+"},{"t":34.21,"v":42.2,"label":"82"},{"t":35.87,"v":18.8,"label":"87"},{"t":38.7,"v":22.2,"label":"95"},{"t":39.64,"v":43.2,"label":"97"},{"t":40.72,"v":27.8,"label":"99"},{"t":45.11,"v":34.5,"label":"107"},{"t":49.42,"v":185.5,"label":"121"},{"t":51.17,"v":35.5,"label":"123"},{"t":54.75,"v":18.8,"label":"132"}
]
},
"vconcat": [
{
"width": 743, "height": 218,
"title": {"text": "Cork", "anchor": "start", "frame": "group", "dx": 6.5, "offset": 0.4, "fontSize": 18, "fontWeight": "normal", "font": "Liberation Sans", "color": "#111"},
"layer": [
{"data": {"name": "cork"}, "mark": {"type": "line", "color": "#111", "strokeWidth": 1.4, "strokeJoin": "bevel"},
"encoding": {
"x": {"field": "t", "type": "quantitative", "scale": {"domain": [5, 65], "nice": false, "zero": false},
"axis": {"values": [5,10,15,20,25,30,35,40,45,50,55,60,65], "ticks": false, "tickSize": 0, "grid": false, "domainColor": "#111", "domainWidth": 1.6, "labelFont": "Liberation Sans", "labelFontSize": 14, "labelColor": "#111", "labelPadding": 15, "labelFlush": false, "labelOverlap": false, "title": "Retention Time (min)", "titleFont": "Liberation Sans", "titleFontSize": 16.5, "titleFontWeight": "normal", "titleColor": "#111", "titlePadding": 13}},
"y": {"field": "v", "type": "quantitative", "scale": {"domain": [-8, 210], "nice": false, "zero": false}, "axis": null}
}},
{"data": {"name": "corkLab"}, "mark": {"type": "text", "fontSize": 13, "font": "Liberation Sans", "color": "#111", "baseline": "middle", "align": "center"},
"encoding": {
"x": {"field": "t", "type": "quantitative", "scale": {"domain": [5, 65], "nice": false, "zero": false}},
"y": {"field": "v", "type": "quantitative", "scale": {"domain": [-8, 210], "nice": false, "zero": false}},
"text": {"field": "label", "type": "nominal"}
}}
]
},
{
"width": 760.5, "height": 225,
"title": {"text": "Phloem", "anchor": "start", "frame": "group", "dx": 8.5, "offset": -17, "fontSize": 18, "fontWeight": "normal", "font": "Liberation Sans", "color": "#111"},
"layer": [
{"data": {"name": "phloem"}, "mark": {"type": "line", "color": "#111", "strokeWidth": 1.4, "strokeJoin": "bevel"},
"encoding": {
"x": {"field": "t", "type": "quantitative", "scale": {"domain": [5, 65], "nice": false, "zero": false},
"axis": {"values": [5,10,15,20,25,30,35,40,45,50,55,60,65], "ticks": false, "tickSize": 0, "grid": false, "domainColor": "#111", "domainWidth": 1.6, "labelFont": "Liberation Sans", "labelFontSize": 14, "labelColor": "#111", "labelPadding": 15, "labelFlush": false, "labelOverlap": false, "title": "Retention Time (min)", "titleFont": "Liberation Sans", "titleFontSize": 16.5, "titleFontWeight": "normal", "titleColor": "#111", "titlePadding": 5}},
"y": {"field": "v", "type": "quantitative", "scale": {"domain": [-3.5, 221.5], "nice": false, "zero": false}, "axis": null}
}},
{"data": {"name": "phloemLab"}, "mark": {"type": "text", "fontSize": 13, "font": "Liberation Sans", "color": "#111", "baseline": "middle", "align": "center"},
"encoding": {
"x": {"field": "t", "type": "quantitative", "scale": {"domain": [5, 65], "nice": false, "zero": false}},
"y": {"field": "v", "type": "quantitative", "scale": {"domain": [-3.5, 221.5], "nice": false, "zero": false}},
"text": {"field": "label", "type": "nominal"}
}}
]
},
{
"width": 743, "height": 206,
"title": {"text": "Wood", "anchor": "start", "frame": "group", "dx": -11.5, "offset": 6.1, "fontSize": 18, "fontWeight": "normal", "font": "Liberation Sans", "color": "#111"},
"layer": [
{"data": {"name": "wood"}, "mark": {"type": "line", "color": "#111", "strokeWidth": 1.4, "strokeJoin": "bevel"},
"encoding": {
"x": {"field": "t", "type": "quantitative", "scale": {"domain": [5, 65], "nice": false, "zero": false},
"axis": {"values": [5,10,15,20,25,30,35,40,45,50,55,60,65], "ticks": false, "tickSize": 0, "grid": false, "domainColor": "#111", "domainWidth": 1.6, "labelFont": "Liberation Sans", "labelFontSize": 14, "labelColor": "#111", "labelPadding": 15, "labelFlush": false, "labelOverlap": false, "title": "Retention Time (min)", "titleFont": "Liberation Sans", "titleFontSize": 16.5, "titleFontWeight": "normal", "titleColor": "#111", "titlePadding": 12}},
"y": {"field": "v", "type": "quantitative", "scale": {"domain": [-3.5, 202.5], "nice": false, "zero": false}, "axis": null}
}},
{"data": {"name": "woodLab"}, "mark": {"type": "text", "fontSize": 13, "font": "Liberation Sans", "color": "#111", "baseline": "middle", "align": "center"},
"encoding": {
"x": {"field": "t", "type": "quantitative", "scale": {"domain": [5, 65], "nice": false, "zero": false}},
"y": {"field": "v", "type": "quantitative", "scale": {"domain": [-3.5, 202.5], "nice": false, "zero": false}},
"text": {"field": "label", "type": "nominal"}
}}
]
}
]
}
